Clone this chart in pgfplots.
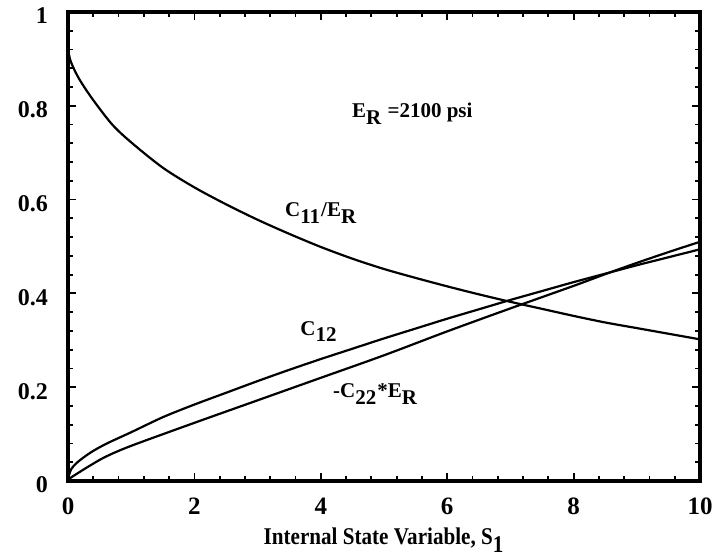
\documentclass[border=0pt]{standalone}
\usepackage{pgfplots}
\pgfplotsset{compat=1.18}
\usepackage{graphicx}
\usepackage{fontspec}
\setmainfont{Liberation Serif}
\begin{document}
\begin{tikzpicture}
\begin{axis}[
  scale only axis,
  width=316pt, height=234.5pt,
  xmin=0, xmax=10, ymin=0, ymax=1,
  xtick={0,2,4,6,8,10}, ytick={0,0.2,0.4,0.6,0.8,1},
  minor tick num=4,
  tick align=inside,
  major tick length=4pt, minor tick length=2.5pt,
  every tick/.style={line width=0.9pt, black},
  axis line style={line width=1.6pt},
  /pgf/number format/assume math mode=true,
  yticklabel style={font=\fontsize{12}{14}\selectfont\bfseries, /pgf/number format/fixed, /pgf/number format/precision=1, anchor=east, xshift=-6.5pt, yshift=-2pt},
  xticklabel style={font=\fontsize{12.5}{14}\selectfont\bfseries, anchor=north, yshift=-5pt},
  xlabel={\scalebox{0.88}[1]{\fontsize{12}{14}\selectfont\bfseries Internal State Variable, S$_{\textbf{1}}$}},
  xlabel style={at={(axis description cs:0.5,0)}, anchor=base, yshift=-32pt},
  clip=false,
]
% C11/E_R
\addplot[black, line width=1.1pt, smooth] coordinates {
(0,0.925)(0.03,0.9)(0.1,0.877)(0.2,0.852)(0.4,0.812)(0.7,0.76)(1,0.722)(1.5,0.668)(2,0.626)(2.5,0.59)(3,0.557)(3.5,0.527)(4,0.499)(4.5,0.474)(5,0.452)(5.5,0.433)(6,0.415)(6.5,0.398)(7,0.382)(7.5,0.367)(8,0.352)(8.5,0.338)(9,0.326)(9.5,0.314)(10,0.302)};
% C12
\addplot[black, line width=1.1pt, smooth] coordinates {
(0,0.005)(0.05,0.025)(0.15,0.04)(0.35,0.06)(0.6,0.079)(1,0.104)(1.5,0.136)(2,0.163)(2.5,0.188)(3,0.213)(3.5,0.237)(4,0.26)(4.5,0.282)(5,0.304)(5.5,0.325)(6,0.346)(6.5,0.366)(7,0.386)(7.5,0.405)(8,0.424)(8.5,0.442)(9,0.46)(9.5,0.477)(10,0.494)};
% -C22*E_R
\addplot[black, line width=1.1pt, smooth] coordinates {
(0,0.003)(0.1,0.012)(0.35,0.033)(0.6,0.052)(1,0.075)(2,0.124)(3,0.172)(4,0.22)(5,0.268)(6,0.319)(7,0.368)(8,0.416)(8.5,0.441)(9,0.465)(9.5,0.488)(10,0.51)};
\node[font=\fontsize{10.5}{12}\selectfont\bfseries, anchor=base west, inner sep=0pt] at (axis cs:3.43,0.563) {C$_{\textbf{11}}$/E$_{\textbf{R}}$};
\node[font=\fontsize{10.5}{12}\selectfont\bfseries, anchor=base west, inner sep=0pt] at (axis cs:3.67,0.311) {C$_{\textbf{12}}$};
\node[font=\fontsize{10.5}{12}\selectfont\bfseries, anchor=base west, inner sep=0pt] at (axis cs:4.19,0.177) {-C$_{\textbf{22}}$*E$_{\textbf{R}}$};
\node[font=\fontsize{10.5}{12}\selectfont\bfseries, anchor=base west, inner sep=0pt] at (axis cs:4.49,0.774) {E$_{\textbf{R}}$ =2100 psi};
\end{axis}
\pgfresetboundingbox
\path ([shift={(-34pt,-39pt)}]current axis.south west) rectangle ([shift={(6pt,6pt)}]current axis.north east);
\end{tikzpicture}
\end{document}
